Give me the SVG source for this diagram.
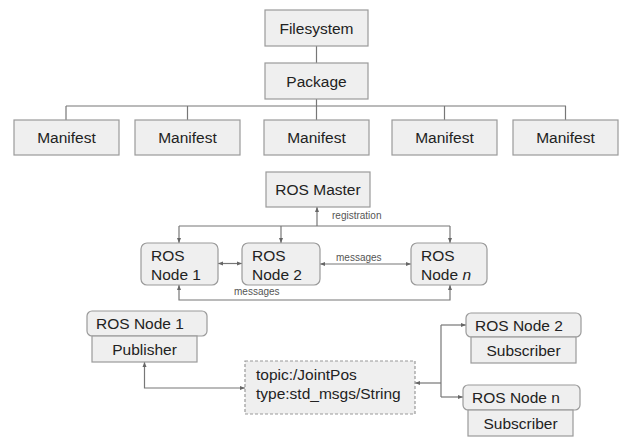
<svg xmlns="http://www.w3.org/2000/svg" width="619" height="437" viewBox="0 0 619 437">
<defs>
<marker id="ah" viewBox="0 0 10 10" refX="10" refY="5" markerWidth="5" markerHeight="5" orient="auto-start-reverse" markerUnits="userSpaceOnUse">
<path d="M0 1 L10 5 L0 9 Z" fill="#666"/>
</marker>
</defs>
<style>
.box{fill:#efefef;stroke:#9a9a9a;stroke-width:1.2}
.dash{fill:#efefef;stroke:#999;stroke-width:1.2;stroke-dasharray:3 2}
.t{font-family:"Liberation Sans",Arial,sans-serif;font-size:15.5px;fill:#222}
.c{text-anchor:middle}
.s{font-family:"Liberation Sans",Arial,sans-serif;font-size:10px;fill:#555}
.ln{fill:none;stroke:#777;stroke-width:1.2}
.ar{fill:none;stroke:#777;stroke-width:1.2;marker-end:url(#ah)}
.ar2{fill:none;stroke:#777;stroke-width:1.2;marker-start:url(#ah);marker-end:url(#ah)}
</style>
<rect width="619" height="437" fill="#fff"/>
<g id="connectors">
<path class="ln" d="M316.5 46 V63"/>
<path class="ln" d="M316.5 99 V120 M66 106 H566 M66 106 V120 M187.5 106 V120 M444.5 106 V120 M565.5 106 V120"/>
<path class="ln" d="M179 226 H450"/>
<path class="ar" d="M317 226 V207"/>
<path class="ar" d="M179 226 V243"/>
<path class="ar" d="M281 226 V243"/>
<path class="ar" d="M450 226 V243"/>
<path class="ar2" d="M218 263.5 H242"/>
<path class="ar2" d="M320 264 H411"/>
<path class="ar2" d="M179 285 V300 H450 V285"/>
<path class="ar2" d="M144.5 362 V388 H245"/>
<path class="ar" d="M441 383 H415"/>
<path class="ln" d="M441 325 V397"/>
<path class="ar" d="M441 325 H466"/>
<path class="ar" d="M441 397 H463"/>
<text class="s" x="332" y="219">registration</text>
<text class="s" x="336" y="261">messages</text>
<text class="s" x="234" y="295">messages</text>
</g>
<g id="filesystem"><rect class="box" x="265" y="10" width="103" height="36"/><text class="t c" x="316.5" y="33.5">Filesystem</text></g>
<g id="package"><rect class="box" x="265" y="63" width="103" height="36"/><text class="t c" x="316.5" y="86.5">Package</text></g>
<g id="manifest1"><rect class="box" x="14" y="120" width="105" height="35"/><text class="t c" x="66.5" y="143">Manifest</text></g>
<g id="manifest2"><rect class="box" x="135" y="120" width="105" height="35"/><text class="t c" x="187.5" y="143">Manifest</text></g>
<g id="manifest3"><rect class="box" x="264" y="120" width="105" height="35"/><text class="t c" x="316.5" y="143">Manifest</text></g>
<g id="manifest4"><rect class="box" x="392" y="120" width="105" height="35"/><text class="t c" x="444.5" y="143">Manifest</text></g>
<g id="manifest5"><rect class="box" x="513" y="120" width="105" height="35"/><text class="t c" x="565.5" y="143">Manifest</text></g>
<g id="ros-master"><rect class="box" x="266" y="172" width="104" height="35"/><text class="t c" x="318" y="195">ROS Master</text></g>
<g id="ros-node1"><rect class="box" x="141" y="243" width="77" height="42" rx="6"/><text class="t" x="151" y="261">ROS</text><text class="t" x="151" y="280">Node 1</text></g>
<g id="ros-node2"><rect class="box" x="242" y="243" width="78" height="42" rx="6"/><text class="t" x="252" y="261">ROS</text><text class="t" x="252" y="280">Node 2</text></g>
<g id="ros-noden"><rect class="box" x="411" y="243" width="76" height="42" rx="6"/><text class="t" x="421" y="261">ROS</text><text class="t" x="421" y="280">Node <tspan font-style="italic">n</tspan></text></g>
<g id="pub-node"><rect class="box" x="87" y="311" width="120" height="25" rx="5"/><text class="t" x="96" y="329">ROS Node 1</text><rect class="box" x="92" y="336" width="105" height="26"/><text class="t c" x="144.5" y="354.5">Publisher</text></g>
<g id="topic"><rect class="dash" x="245" y="361" width="170" height="53"/><text class="t" x="256" y="380">topic:/JointPos</text><text class="t" x="256" y="399">type:std_msgs/String</text></g>
<g id="sub-node2"><rect class="box" x="466" y="313" width="115" height="24" rx="5"/><text class="t" x="475" y="330.5">ROS Node 2</text><rect class="box" x="471" y="337" width="105" height="26"/><text class="t c" x="523.5" y="355.5">Subscriber</text></g>
<g id="sub-noden"><rect class="box" x="463" y="385" width="117" height="25" rx="5"/><text class="t" x="472" y="403">ROS Node n</text><rect class="box" x="468" y="410" width="105" height="26"/><text class="t c" x="520.5" y="428.5">Subscriber</text></g>
</svg>
